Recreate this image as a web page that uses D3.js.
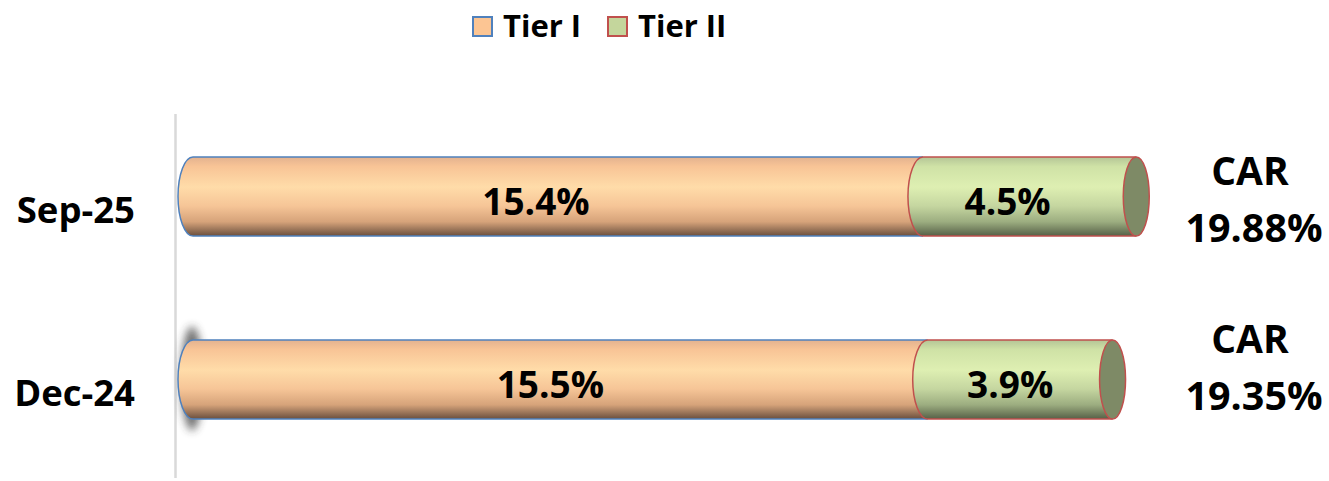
<!DOCTYPE html>
<html>
<head>
<meta charset="utf-8">
<script src="https://cdn.jsdelivr.net/npm/d3@7"></script>
<style>
    body { margin: 0; background: #fff; }
    svg text { font-family: "Open Sans", "Lato", sans-serif; font-weight: 700; fill: #000; }
</style>
</head>
<body>
<div id="chart"></div>
<script>
// Chart data
const categories = ['Sep-25', 'Dec-24'];
const series_names = ['Tier I', 'Tier II'];
const tier1 = [15.4, 15.5];
const tier2 = [4.5, 3.9];
const car_values = ['19.88%', '19.35%'];

const width = 1329, height = 481;
const bar_h = 79, rx = 15;

const colors = {
    'Tier I': { stroke: '#4f81bd', legend: '#fcc593', stops: ['#e3b28f', '#f8c496', '#ffdca9', '#f6c597', '#d6a37a', '#6a4f3e'], cap: '#b08060' },
    'Tier II': { stroke: '#c0504d', legend: '#c4d69c', stops: ['#b4c596', '#cfe2a6', '#deefb2', '#c5d6a0', '#9cad80', '#566047'], cap: '#7e8a66' }
};

const svg = d3.select('#chart').append('svg')
    .attr('width', width)
    .attr('height', height);

const defs = svg.append('defs');
series_names.forEach((s, i) => {
    const g = defs.append('linearGradient')
        .attr('id', 'grad' + i)
        .attr('x1', 0).attr('y1', 0).attr('x2', 0).attr('y2', 1);
    const offsets = [0, 0.12, 0.38, 0.62, 0.82, 1];
    colors[s].stops.forEach((c, k) => {
        g.append('stop').attr('offset', offsets[k]).attr('stop-color', c);
    });
});
defs.append('filter').attr('id', 'blur')
    .attr('x', '-100%').attr('y', '-50%').attr('width', '300%').attr('height', '200%')
    .append('feGaussianBlur').attr('stdDeviation', 4);

// Scales
const x = d3.scaleLinear().domain([0, 20]).range([193, 1141]);
const y = d3.scalePoint().domain(categories).range([196.5, 379.5]);

// Axis line
svg.append('line')
    .attr('x1', 175.5).attr('x2', 175.5)
    .attr('y1', 114).attr('y2', 478)
    .attr('stroke', '#d9d9d9')
    .attr('stroke-width', 2.5);

// Category labels
svg.append('g').selectAll('text')
    .data(categories)
    .join('text')
    .attr('x', 135)
    .attr('y', d => y(d) + 26)
    .attr('text-anchor', 'end')
    .attr('font-size', 36.5)
    .text(d => d);

// Stack the data
const rows = categories.map((c, i) => {
    const segs = [
        { series: 'Tier I', idx: 0, x0: 0, x1: tier1[i], v: tier1[i] },
        { series: 'Tier II', idx: 1, x0: tier1[i], x1: tier1[i] + tier2[i], v: tier2[i] }
    ];
    return { cat: c, segs: segs, car: car_values[i] };
});

// Shadow on the left end of the lower bar
svg.append('ellipse')
    .attr('cx', x(0) - 1)
    .attr('cy', y('Dec-24') - 1)
    .attr('rx', 11)
    .attr('ry', 52)
    .attr('fill', '#333')
    .attr('opacity', 0.7)
    .attr('filter', 'url(#blur)');

function body_path(x0, x1, cy) {
    const top = cy - bar_h / 2, bot = cy + bar_h / 2;
    return 'M' + x0 + ',' + top + 'L' + x1 + ',' + top + 'L' + x1 + ',' + bot + 'L' + x0 + ',' + bot +
        'A' + rx + ',' + (bar_h / 2) + ' 0 0 1 ' + x0 + ',' + top + 'Z';
}

function edge_path(x0, x1, cy) {
    const top = cy - bar_h / 2, bot = cy + bar_h / 2;
    return 'M' + x1 + ',' + top + 'L' + x0 + ',' + top +
        'A' + rx + ',' + (bar_h / 2) + ' 0 0 0 ' + x0 + ',' + bot + 'L' + x1 + ',' + bot;
}

rows.forEach((r, i) => {
    const cy = y(r.cat);
    const g = svg.append('g').attr('class', 'bar');
    r.segs.forEach((s, k) => {
        g.append('path')
            .attr('d', body_path(x(s.x0), x(s.x1), cy))
            .attr('fill', 'url(#grad' + s.idx + ')');
        g.append('path')
            .attr('d', edge_path(x(s.x0), x(s.x1), cy))
            .attr('fill', 'none')
            .attr('stroke', colors[s.series].stroke)
            .attr('stroke-width', 1.5);
        if (k === r.segs.length - 1) {
            g.append('ellipse')
                .attr('cx', x(s.x1))
                .attr('cy', cy)
                .attr('rx', rx - 2)
                .attr('ry', bar_h / 2)
                .attr('fill', colors[s.series].cap)
                .attr('stroke', colors[s.series].stroke)
                .attr('stroke-width', 1.5);
        }
    });
    // Segment labels
    g.selectAll('text')
        .data(r.segs)
        .join('text')
        .attr('x', d => (x(d.x0) + x(d.x1)) / 2 - (i === 0 ? 22 : 10))
        .attr('y', cy + 18.5)
        .attr('text-anchor', 'middle')
        .attr('font-size', 37)
        .text(d => d.v.toFixed(1) + '%');
});

// CAR annotations
const car_dy = [-11.5, -26.5];
rows.forEach((r, i) => {
    const cy = y(r.cat);
    svg.append('text')
        .attr('x', 1250)
        .attr('y', cy + car_dy[i])
        .attr('text-anchor', 'middle')
        .attr('font-size', 39)
        .text('CAR');
    svg.append('text')
        .attr('x', 1254)
        .attr('y', cy + car_dy[i] + 57)
        .attr('text-anchor', 'middle')
        .attr('font-size', 39.5)
        .text(r.car);
});

// Legend
const legend = svg.append('g').attr('class', 'legend');
const legend_x = [472, 607];
series_names.forEach((s, i) => {
    legend.append('rect')
        .attr('x', legend_x[i] + 1)
        .attr('y', 17)
        .attr('width', 19)
        .attr('height', 19)
        .attr('fill', colors[s].legend)
        .attr('stroke', colors[s].stroke)
        .attr('stroke-width', 2);
    legend.append('text')
        .attr('x', legend_x[i] + 31)
        .attr('y', 37)
        .attr('font-size', 31)
        .text(s);
});
</script>
</body>
</html>
